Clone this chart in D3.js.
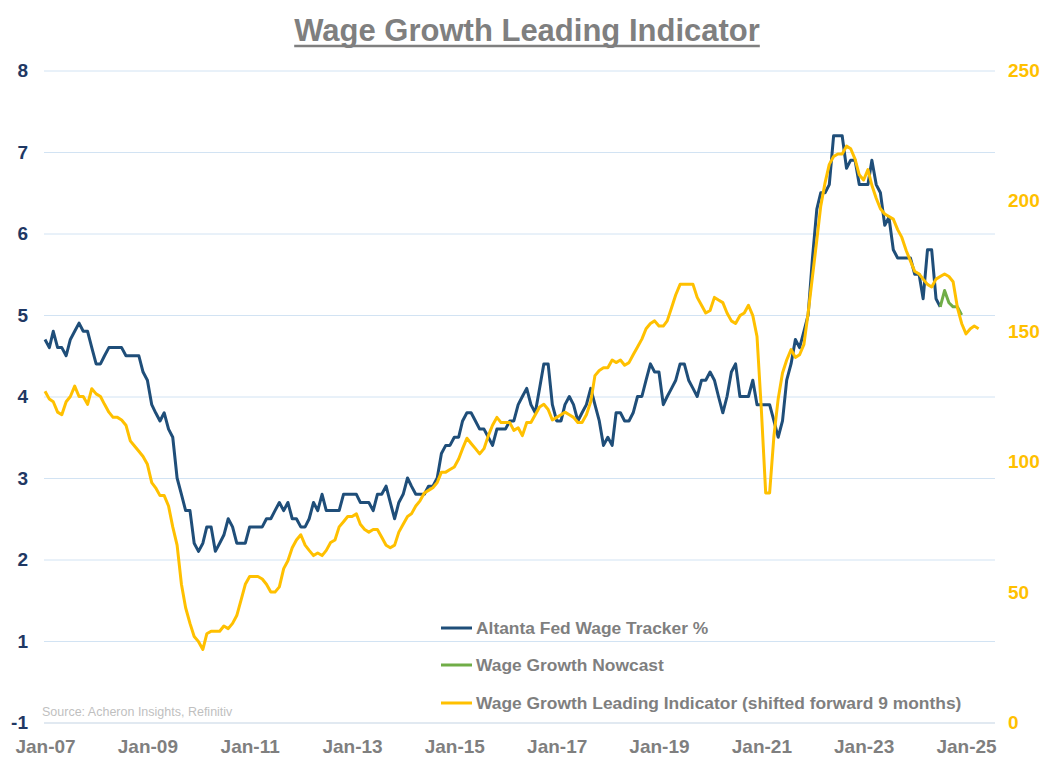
<!DOCTYPE html>
<html><head><meta charset="utf-8">
<script src="https://cdn.jsdelivr.net/npm/d3@7"></script>
<style>body{margin:0;background:#fff}svg{display:block}</style>
</head><body><svg id="c" width="1056" height="765"></svg>
<script>
// ---------- DATA ----------
const titleText = "Wage Growth Leading Indicator";
const sourceText = "Source: Acheron Insights, Refinitiv";
const seriesNames = ["Altanta Fed Wage Tracker %", "Wage Growth Nowcast", "Wage Growth Leading Indicator (shifted forward 9 months)"];
const seriesColors = ["#1f4e79", "#70ad47", "#ffc000"];

// monthly, starting Jan 2007
const trackerStart = [2007, 0];
const trackerValues = [
 4.7,4.6,4.8,4.6,4.6,4.5,4.7,4.8,4.9,4.8,
 4.8,4.6,4.4,4.4,4.5,4.6,4.6,4.6,4.6,4.5,
 4.5,4.5,4.5,4.3,4.2,3.9,3.8,3.7,3.8,3.6,
 3.5,3.0,2.8,2.6,2.6,2.2,2.1,2.2,2.4,2.4,
 2.1,2.2,2.3,2.5,2.4,2.2,2.2,2.2,2.4,2.4,
 2.4,2.4,2.5,2.5,2.6,2.7,2.6,2.7,2.5,2.5,
 2.4,2.4,2.5,2.7,2.6,2.8,2.6,2.6,2.6,2.6,
 2.8,2.8,2.8,2.8,2.7,2.7,2.7,2.6,2.8,2.8,
 2.9,2.7,2.5,2.7,2.8,3.0,2.9,2.8,2.8,2.8,
 2.9,2.9,3.0,3.3,3.4,3.4,3.5,3.5,3.7,3.8,
 3.8,3.7,3.6,3.6,3.5,3.4,3.6,3.6,3.6,3.7,
 3.7,3.9,4.0,4.1,3.9,3.8,4.1,4.4,4.4,3.9,
 3.7,3.7,3.9,4.0,3.9,3.7,3.8,3.9,4.1,3.9,
 3.7,3.4,3.5,3.4,3.8,3.8,3.7,3.7,3.8,4.0,
 4.0,4.2,4.4,4.3,4.3,3.9,4.0,4.1,4.2,4.4,
 4.4,4.2,4.1,4.0,4.2,4.2,4.3,4.2,4.0,3.8,
 4.0,4.3,4.4,4.0,4.0,4.0,4.2,3.9,3.9,3.9,
 3.9,3.7,3.5,3.7,4.2,4.4,4.7,4.6,4.8,5.0,
 5.7,6.3,6.5,6.5,6.6,7.2,7.2,7.2,6.8,6.9,
 6.9,6.6,6.6,6.6,6.9,6.6,6.5,6.1,6.2,5.8,
 5.7,5.7,5.7,5.7,5.5,5.5,5.2,5.8,5.8,5.2,
 5.1
];
// monthly, starting Jul 2024
const nowcastStart = [2024, 6];
const nowcastValues = [5.1,5.3,5.15,5.1,5.1,5.0];

// monthly, starting Jan 2007 (right axis)
const leadingStart = [2007, 0];
const leadingValues = [
 127,124,123,119,118,123,125,129,125,125,
 122,128,126,125,122,119,117,117,116,114,
 108,106,104,102,99,92,90,87,87,83,
 75,68,53,44,38,33,31,28,34,35,
 35,35,37,36,38,41,47,53,56,56,
 56,55,53,50,50,52,59,62,67,70,
 72,68,66,64,65,64,66,69,70,75,
 77,79,79,80,76,74,73,74,74,71,
 68,67,68,73,76,79,80,83,85,88,
 89,90,92,96,96,97,98,101,105,109,
 107,105,103,105,110,114,117,115,115,115,
 112,113,110,115,115,118,121,122,120,116,
 117,118,119,118,117,115,115,118,123,133,
 135,136,136,139,138,139,137,138,141,144,
 147,151,153,154,152,152,154,159,164,168,
 168,168,168,163,160,157,158,163,162,161,
 157,154,153,156,157,160,156,148,120,88,
 88,110,124,134,139,143,140,141,145,157,
 171,185,198,207,214,217,218,218,221,220,
 216,210,208,212,206,201,197,195,194,193,
 189,186,181,177,173,172,170,168,167,170,
 171,172,171,169,159,153,149,151,152,151
];

const leftTickValues = [0,1,2,3,4,5,6,7,8];
const leftTickLabels = ["-1","1","2","3","4","5","6","7","8"];
const rightTickValues = [0,50,100,150,200,250];
const xTickLabels = ["Jan-07","Jan-09","Jan-11","Jan-13","Jan-15","Jan-17","Jan-19","Jan-21","Jan-23","Jan-25"];
const xTickDates = xTickLabels.map(s => d3.timeParse("%b-%y")(s));

// ---------- CHART ----------
const svg = d3.select("#c");
const FONT = "'Liberation Sans', Arial, sans-serif";
const plotL = 44, plotR = 995, plotT = 70.5, plotB = 722.5;

const x = d3.scaleTime()
  .domain([new Date(2007,0,1), new Date(2025,0,1)])
  .range([45, 966]);
const yL = d3.scaleLinear().domain([0,8]).range([plotB, plotT]);
const yR = d3.scaleLinear().domain([0,250]).range([plotB, plotT]);

const toPts = (start, vals) => vals.map((v,i) => ({d: new Date(start[0], start[1]+i, 1), v}));

// gridlines + left axis
const gL = svg.append("g").attr("transform", `translate(${plotL},0)`)
  .call(d3.axisLeft(yL).tickValues(leftTickValues)
    .tickFormat((d,i) => leftTickLabels[i])
    .tickSize(-(plotR-plotL)).tickPadding(16));
gL.select(".domain").remove();
gL.selectAll(".tick line").attr("stroke", (d) => d === 0 ? "#c3d3e3" : "#d2e3f3").attr("stroke-width", 1);
gL.selectAll(".tick text").attr("fill", "#1f3864").style("font", `bold 19px ${FONT}`);

// right axis
const gR = svg.append("g").attr("transform", `translate(${plotR},0)`)
  .call(d3.axisRight(yR).tickValues(rightTickValues).tickSize(0).tickPadding(13));
gR.select(".domain").remove();
gR.selectAll(".tick text").attr("fill", "#ffc000").style("font", `bold 19px ${FONT}`);

// bottom axis
const gB = svg.append("g").attr("transform", `translate(0,${plotB})`)
  .call(d3.axisBottom(x).tickValues(xTickDates).tickFormat((d,i) => xTickLabels[i]).tickSize(0).tickPadding(17));
gB.select(".domain").remove();
gB.selectAll(".tick text").attr("fill", "#7f7f7f").style("font", `bold 19px ${FONT}`);

// lines
const lineL = d3.line().x(p => x(p.d)).y(p => yL(p.v));
const lineR = d3.line().x(p => x(p.d)).y(p => yR(p.v));
svg.append("path").datum(toPts(trackerStart, trackerValues)).attr("d", lineL)
  .attr("fill","none").attr("stroke", seriesColors[0]).attr("stroke-width", 3).attr("stroke-linejoin","round");
svg.append("path").datum(toPts(nowcastStart, nowcastValues)).attr("d", lineL)
  .attr("fill","none").attr("stroke", seriesColors[1]).attr("stroke-width", 3).attr("stroke-linejoin","round");
svg.append("path").datum(toPts(leadingStart, leadingValues)).attr("d", lineR)
  .attr("fill","none").attr("stroke", seriesColors[2]).attr("stroke-width", 3).attr("stroke-linejoin","round");

// legend
const legRows = [628, 665, 703];
seriesNames.forEach((name, i) => {
  const g = svg.append("g");
  g.append("line").attr("x1", 441).attr("x2", 472).attr("y1", legRows[i]).attr("y2", legRows[i])
    .attr("stroke", seriesColors[i]).attr("stroke-width", 3);
  g.append("text").attr("x", 476).attr("y", legRows[i]).attr("dy", "0.35em")
    .attr("fill", "#7f7f7f").style("font", `bold 17.4px ${FONT}`).text(name);
});

// source
svg.append("text").attr("x", 42).attr("y", 716).attr("fill", "#bfbfbf")
  .style("font", `12.5px ${FONT}`).text(sourceText);

// title
const t = svg.append("text").attr("x", 527).attr("y", 41).attr("text-anchor","middle")
  .attr("fill", "#7f7f7f").style("font", `bold 31px ${FONT}`).text(titleText);
const tw = t.node().getComputedTextLength();
svg.append("line").attr("x1", 527 - tw/2).attr("x2", 527 + tw/2).attr("y1", 46).attr("y2", 46)
  .attr("stroke", "#7f7f7f").attr("stroke-width", 2.5);
</script></body></html>
